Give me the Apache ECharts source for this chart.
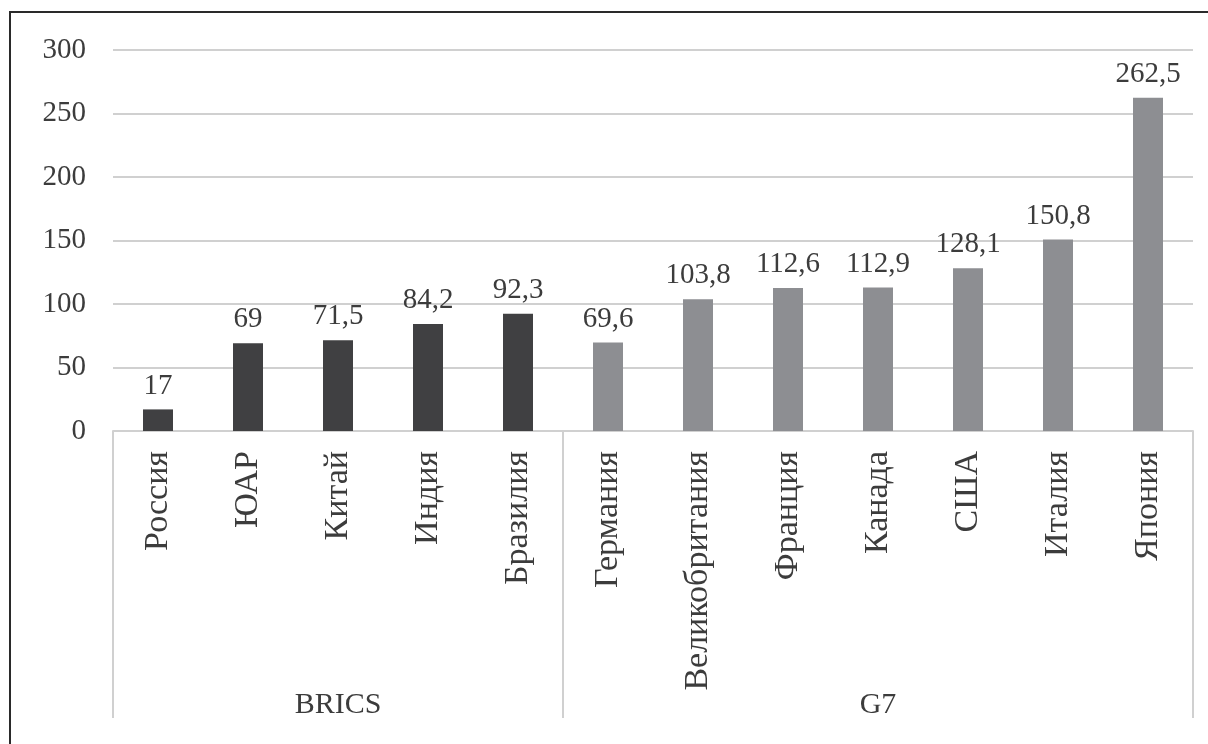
<!DOCTYPE html>
<html>
<head>
<meta charset="utf-8">
<script src="https://cdn.jsdelivr.net/npm/echarts@6/dist/echarts.min.js"></script>
<style>
  html, body { margin: 0; padding: 0; background: #ffffff; }
  #frame { position: absolute; left: 9px; top: 11px; width: 1199px; height: 733px;
           border-left: 2px solid #2a2a2a; border-top: 2px solid #2a2a2a; box-sizing: border-box; }
  #chart { position: absolute; left: 0; top: 0; width: 1208px; height: 744px; }
</style>
</head>
<body>
<div id="frame"></div>
<div id="chart"></div>
<script>
// ---- data ----
const bricsCountries = ['Россия', 'ЮАР', 'Китай', 'Индия', 'Бразилия'];
const bricsValues = [17, 69, 71.5, 84.2, 92.3];
const g7Countries = ['Германия', 'Великобритания', 'Франция', 'Канада', 'США', 'Италия', 'Япония'];
const g7Values = [69.6, 103.8, 112.6, 112.9, 128.1, 150.8, 262.5];
const groupNames = ['BRICS', 'G7'];
const yTicks = [0, 50, 100, 150, 200, 250, 300];

// ---- build ----
const groups = [
  { name: groupNames[0], cats: bricsCountries, vals: bricsValues, color: '#404042' },
  { name: groupNames[1], cats: g7Countries, vals: g7Values, color: '#8d8e92' }
];
const categories = [];
const barData = [];
const groupAxisData = [];
const groupStarts = [];
groups.forEach(g => {
  groupStarts.push(categories.length);
  const mid = Math.floor(g.cats.length / 2);
  g.cats.forEach((c, i) => {
    categories.push(c);
    barData.push({ value: g.vals[i], itemStyle: { color: g.color } });
    groupAxisData.push(i === mid ? g.name : '');
  });
});

const textColor = '#3c3c3c';
const fontFamily = '"Liberation Serif", "Times New Roman", serif';
const chart = echarts.init(document.getElementById('chart'));
chart.setOption({
  animation: false,
  backgroundColor: 'transparent',
  grid: { left: 113, right: 15, top: 50, bottom: 313, containLabel: false },
  xAxis: [
    {
      type: 'category',
      data: categories,
      position: 'bottom',
      axisLine: { show: true, lineStyle: { color: '#d0d0d0', width: 2 } },
      axisTick: { show: false },
      axisLabel: {
        rotate: 90, interval: 0, margin: 20,
        color: textColor, fontFamily: fontFamily, fontSize: 34
      },
      splitLine: { show: false }
    },
    {
      type: 'category',
      data: groupAxisData,
      position: 'bottom',
      axisLine: { show: false },
      axisTick: {
        show: true, length: 287,
        interval: (idx) => groupStarts.indexOf(idx) >= 0,
        lineStyle: { color: '#d0d0d0', width: 2 }
      },
      axisLabel: {
        interval: 0, margin: 259,
        color: textColor, fontFamily: fontFamily, fontSize: 30
      },
      splitLine: { show: false }
    }
  ],
  yAxis: {
    type: 'value',
    min: yTicks[0], max: yTicks[yTicks.length - 1], interval: yTicks[1] - yTicks[0],
    axisLine: { show: false },
    axisTick: { show: false },
    axisLabel: { margin: 27, color: textColor, fontFamily: fontFamily, fontSize: 29 },
    splitLine: { lineStyle: { color: '#d0d0d0', width: 2 } }
  },
  series: [{
    type: 'bar',
    xAxisIndex: 0,
    data: barData,
    barWidth: 30,
    label: {
      show: true, position: 'top', distance: 9,
      color: textColor, fontFamily: fontFamily, fontSize: 29,
      formatter: p => String(p.value).replace('.', ',')
    }
  }]
});
</script>
</body>
</html>
